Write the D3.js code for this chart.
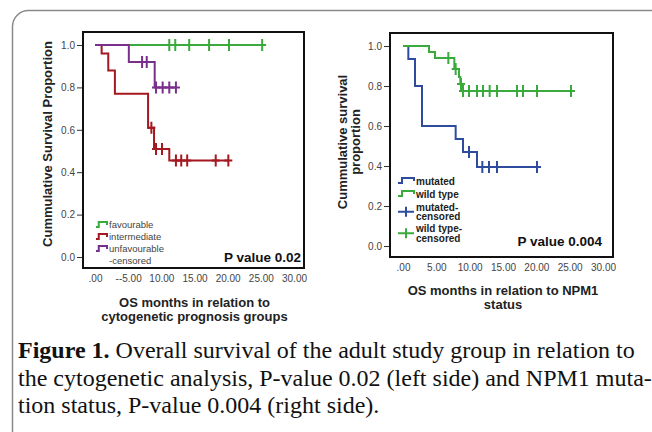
<!DOCTYPE html>
<html>
<head>
<meta charset="utf-8">
<script src="https://cdn.jsdelivr.net/npm/d3@7/dist/d3.min.js"></script>
<style>
  body { margin: 0; background: #fff; }
  svg { display: block; }
  .tick text { font-family: "Liberation Sans", Arial, sans-serif; font-size: 10px; fill: #444; }
  .axis-title { font-family: "Liberation Sans", Arial, sans-serif; font-weight: bold; font-size: 13px; fill: #222; }
</style>
</head>
<body>
<div id="chart"></div>
<script>
// --- Données ---
const yTicks = [0, 0.2, 0.4, 0.6, 0.8, 1.0];
const xTicks = [0, 5, 10, 15, 20, 25, 30];
const xTickLabelsLeft = ['.00', '--5.00', '10.00', '15.00', '20.00', '25.00', '30.00'];
const xTickLabelsRight = ['.00', '5.00', '10.00', '15.00', '20.00', '25.00', '30.00'];

// Courbes de gauche (groupes cytogénétiques) : [mois, survie] à chaque décès
const favourableDrops = [];
const favourableCensored = [11.2, 12.1, 14.2, 17.2, 20.2, 25.2];
const intermediateDrops = [[1.0, 0.96], [2.0, 0.88], [3.0, 0.77], [8.0, 0.61], [8.9, 0.51], [11.2, 0.455]];
const intermediateCensored = [8.5, 9.2, 10.1, 12.2, 13.0, 13.9, 18.2, 20.1];
const unfavourableDrops = [[5.1, 0.92], [9.0, 0.80]];
const unfavourableCensored = [7.1, 7.8, 9.2, 10.2, 11.2, 12.2];

// Courbes de droite (statut NPM1)
const mutatedDrops = [[0.8, 0.935], [1.8, 0.80], [2.85, 0.60], [7.9, 0.535], [9.0, 0.47], [11.1, 0.395]];
const mutatedCensored = [9.9, 11.9, 12.9, 14.1, 20.1];
const wildDrops = [[3.9, 0.97], [4.8, 0.94], [7.7, 0.885], [8.4, 0.845], [8.6, 0.81], [8.8, 0.775]];
const wildCensored = [6.8, 7.9, 8.7, 9.0, 9.9, 11.1, 12.0, 13.0, 14.1, 17.1, 18.0, 20.1, 25.2];

const leftLegend = ['favourable', 'intermediate', 'unfavourable', '-censored'];
const rightLegend = ['mutated', 'wild type', 'mutated-|censored', 'wild type-|censored'];

const COLORS = {
  green: '#3aaa3c',
  red: '#a3191f',
  purple: '#7a2f8c',
  blue: '#2f4b9e',
};

const W = 652, H = 432;
const FONT = '"Liberation Sans", Arial, sans-serif';

const svg = d3.select('#chart').append('svg')
  .attr('width', W)
  .attr('height', H);

// cadre arrondi autour de la figure (déborde à droite et en bas)
svg.append('rect')
  .attr('x', 12.5).attr('y', 10.5)
  .attr('width', 720).attr('height', 440)
  .attr('rx', 16)
  .attr('fill', 'none')
  .attr('stroke', '#8a8a8a')
  .attr('stroke-width', 1.5);

// fonction de survie en escalier
function survivalAt(drops, t) {
  let s = 1;
  for (const [dt, ds] of drops) if (dt <= t) s = ds;
  return s;
}

function stepPath(drops, endT, x, y) {
  const pts = [[0, 1]];
  let s = 1;
  for (const [dt, ds] of drops) {
    pts.push([dt, s]);
    pts.push([dt, ds]);
    s = ds;
  }
  pts.push([endT, s]);
  return d3.line().x(d => x(d[0])).y(d => y(d[1]))(pts);
}

function drawPanel({ frame, xRange, yRange, tickLabels, curves, legend, pText, pPos, titleLines, titleY, yTitleLines, yTitleX, yTitleY }) {
  const x = d3.scaleLinear().domain([0, 30]).range(xRange);
  const y = d3.scaleLinear().domain([0, 1]).range(yRange);
  const g = svg.append('g');

  // axe Y avec graduations à l'extérieur du cadre
  g.append('g')
    .attr('transform', `translate(${frame.x0},0)`)
    .call(d3.axisLeft(y).tickValues(yTicks).tickSize(6).tickPadding(2).tickFormat(d3.format('.1f')))
    .call(a => a.select('.domain').remove())
    .call(a => a.selectAll('line').attr('stroke', '#333'));

  // axe X : seulement les étiquettes
  g.append('g')
    .attr('transform', `translate(0,${frame.y1})`)
    .call(d3.axisBottom(x).tickValues(xTicks).tickSize(0).tickPadding(7).tickFormat((d, i) => tickLabels[i]))
    .call(a => a.select('.domain').remove());

  // courbes
  for (const c of curves) {
    const endT = d3.max(c.censored);
    g.append('path')
      .attr('d', stepPath(c.drops, endT, x, y))
      .attr('fill', 'none')
      .attr('stroke', c.color)
      .attr('stroke-width', 2);
    g.selectAll(null)
      .data(c.censored)
      .join('path')
      .attr('d', t => {
        const cx = x(t), cy = y(survivalAt(c.drops, t));
        return `M${cx - 4},${cy}H${cx + 4}M${cx},${cy - 6}V${cy + 6}`;
      })
      .attr('stroke', c.color)
      .attr('stroke-width', 2);
  }

  // cadre du graphique
  g.append('rect')
    .attr('x', frame.x0).attr('y', frame.y0)
    .attr('width', frame.x1 - frame.x0).attr('height', frame.y1 - frame.y0)
    .attr('fill', 'none')
    .attr('stroke', '#111')
    .attr('stroke-width', 2);

  // légende
  const lg = g.append('g').attr('transform', `translate(${legend.x},${legend.y})`);
  let ly = 0;
  legend.items.forEach((it) => {
    const lines = it.label.split('|');
    const row = lg.append('g').attr('transform', `translate(0,${ly})`);
    if (it.symbol === 'step') {
      row.append('path')
        .attr('d', `M0,2H${legend.sw * 0.25}V-3H${legend.sw}V0`)
        .attr('fill', 'none').attr('stroke', it.color).attr('stroke-width', 2);
    } else if (it.symbol === 'cross') {
      const cy = (lines.length - 1) * legend.lh / 2;
      row.append('path')
        .attr('d', `M0,${cy}H${legend.sw}M${legend.sw / 2},${cy - 5}V${cy + 5}`)
        .attr('stroke', it.color).attr('stroke-width', 2);
    }
    const txt = row.append('text')
      .attr('x', legend.sw + 2)
      .attr('y', 0)
      .attr('font-family', FONT)
      .attr('font-size', legend.fs)
      .attr('font-weight', legend.bold ? 'bold' : 'normal')
      .attr('fill', legend.bold ? '#222' : '#444');
    lines.forEach((ln, j) => txt.append('tspan').attr('x', legend.sw + 2).attr('dy', j === 0 ? '0.35em' : legend.lh).text(ln));
    ly += legend.lh * lines.length + (it.gap || 0);
  });

  // valeur P
  g.append('text')
    .attr('x', pPos[0]).attr('y', pPos[1])
    .attr('text-anchor', 'end')
    .attr('font-family', FONT)
    .attr('font-weight', 'bold')
    .attr('font-size', 13.5)
    .attr('fill', '#111')
    .text(pText);

  // titre de l'axe X
  titleLines.forEach((t, i) => {
    g.append('text')
      .attr('class', 'axis-title')
      .attr('x', (xRange[0] + xRange[1]) / 2)
      .attr('y', titleY + i * 14)
      .attr('text-anchor', 'middle')
      .text(t);
  });

  // titre de l'axe Y (vertical)
  yTitleLines.forEach((t, i) => {
    g.append('text')
      .attr('class', 'axis-title')
      .attr('transform', `translate(${yTitleX + i * 13},${yTitleY}) rotate(-90)`)
      .attr('text-anchor', 'middle')
      .text(t);
  });
}

// --- Panneau gauche ---
drawPanel({
  frame: { x0: 83, y0: 32, x1: 304, y1: 268 },
  xRange: [95, 294],
  yRange: [257, 45],
  tickLabels: xTickLabelsLeft,
  curves: [
    { drops: favourableDrops, censored: favourableCensored, color: COLORS.green },
    { drops: intermediateDrops, censored: intermediateCensored, color: COLORS.red },
    { drops: unfavourableDrops, censored: unfavourableCensored, color: COLORS.purple },
  ],
  legend: {
    x: 96, y: 225, sw: 11, lh: 12, fs: 9.5, bold: false,
    items: [
      { label: leftLegend[0], color: COLORS.green, symbol: 'step' },
      { label: leftLegend[1], color: COLORS.red, symbol: 'step' },
      { label: leftLegend[2], color: COLORS.purple, symbol: 'step' },
      { label: leftLegend[3], color: 'none', symbol: 'none' },
    ],
  },
  pText: 'P value 0.02',
  pPos: [301, 262],
  titleLines: ['OS months in relation to', 'cytogenetic prognosis groups'],
  titleY: 307,
  yTitleLines: ['Cummulative Survival Proportion'],
  yTitleX: 52,
  yTitleY: 144,
});

// --- Panneau droit ---
drawPanel({
  frame: { x0: 390, y0: 33, x1: 613, y1: 257 },
  xRange: [403, 603],
  yRange: [246, 46],
  tickLabels: xTickLabelsRight,
  curves: [
    { drops: mutatedDrops, censored: mutatedCensored, color: COLORS.blue },
    { drops: wildDrops, censored: wildCensored, color: COLORS.green },
  ],
  legend: {
    x: 398, y: 181, sw: 16, lh: 9.5, fs: 10, bold: true,
    items: [
      { label: rightLegend[0], color: COLORS.blue, symbol: 'step', gap: 3.5 },
      { label: rightLegend[1], color: COLORS.green, symbol: 'step', gap: 3.5 },
      { label: rightLegend[2], color: COLORS.blue, symbol: 'cross', gap: 2.5 },
      { label: rightLegend[3], color: COLORS.green, symbol: 'cross' },
    ],
  },
  pText: 'P value 0.004',
  pPos: [602, 246],
  titleLines: ['OS months in relation to NPM1', 'status'],
  titleY: 295,
  yTitleLines: ['Cummulative survival', 'proportion'],
  yTitleX: 347,
  yTitleY: 142,
});

// --- Légende de la figure ---
const captionLines = [
  [['Figure 1.', true], [' Overall survival of the adult study group in relation to', false]],
  [['the cytogenetic analysis, P-value 0.02 (left side) and NPM1 muta-', false]],
  [['tion status, P-value 0.004 (right side).', false]],
];
captionLines.forEach((parts, i) => {
  const t = svg.append('text')
    .attr('x', 18)
    .attr('y', 358 + i * 27.5)
    .attr('font-family', '"Liberation Serif", "Times New Roman", serif')
    .attr('font-size', 24)
    .attr('fill', '#111');
  parts.forEach(([s, b]) => t.append('tspan').attr('font-weight', b ? 'bold' : 'normal').text(s));
});
</script>
</body>
</html>
